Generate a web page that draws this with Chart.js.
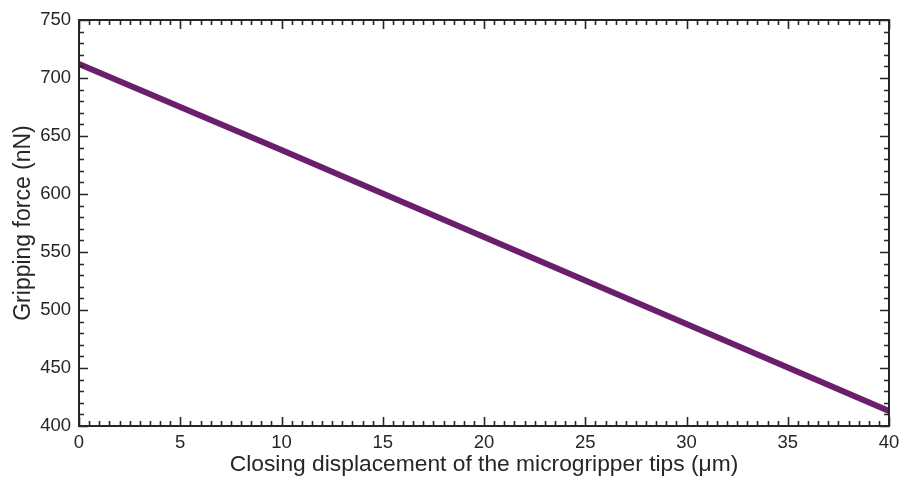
<!DOCTYPE html>
<html>
<head>
<meta charset="utf-8">
<script src="https://cdn.jsdelivr.net/npm/chart.js@4/dist/chart.umd.min.js"></script>
<style>
  html, body { margin: 0; padding: 0; background: #fff; }
  #wrap { width: 899px; height: 478px; }
</style>
</head>
<body>
<div id="wrap"><canvas id="c" width="899" height="478"></canvas></div>
<script>
// Closing displacement (µm) and resulting gripping force (nN)
const displacement = [0, 10, 20, 30, 40];
const grippingForce = [712, 638, 563, 488, 413];

const xTicks = [0, 5, 10, 15, 20, 25, 30, 35, 40];
const yTicks = [400, 450, 500, 550, 600, 650, 700, 750];

const AXIS_COLOR = '#262626';
const LINE_COLOR = '#6a1e6b';
const FONT = '"Liberation Sans", Arial, Helvetica, sans-serif';

// Box frame with inward major/minor ticks on all four sides
const frameTicks = {
  id: 'frameTicks',
  afterDatasetsDraw(chart) {
    const { ctx, chartArea: a, scales } = chart;
    const x = scales.x, y = scales.y;
    ctx.save();
    ctx.strokeStyle = AXIS_COLOR;
    ctx.lineWidth = 2;
    ctx.strokeRect(a.left, a.top, a.right - a.left, a.bottom - a.top);
    ctx.lineWidth = 1.6;
    ctx.beginPath();
    for (let v = x.min; v <= x.max + 1e-9; v += 0.5) {
      const px = Math.round(x.getPixelForValue(v)) + 0.5;
      const len = (Math.abs(v % 5) < 1e-9) ? 9 : 5;
      ctx.moveTo(px, a.bottom); ctx.lineTo(px, a.bottom - len);
      ctx.moveTo(px, a.top); ctx.lineTo(px, a.top + len);
    }
    for (let v = y.min; v <= y.max + 1e-9; v += 10) {
      const py = Math.round(y.getPixelForValue(v)) + 0.5;
      const len = (Math.abs(v % 50) < 1e-9) ? 9 : 5;
      ctx.moveTo(a.left, py); ctx.lineTo(a.left + len, py);
      ctx.moveTo(a.right, py); ctx.lineTo(a.right - len, py);
    }
    ctx.stroke();
    ctx.restore();
  }
};

new Chart(document.getElementById('c'), {
  type: 'scatter',
  data: {
    datasets: [{
      data: displacement.map((d, i) => ({ x: d, y: grippingForce[i] })),
      showLine: true,
      borderColor: LINE_COLOR,
      borderWidth: 6,
      pointRadius: 0,
      tension: 0,
      clip: false
    }]
  },
  options: {
    responsive: false,
    animation: false,
    layout: { padding: { left: 0, right: 0, top: 20, bottom: 0 } },
    plugins: { legend: { display: false }, tooltip: { enabled: false } },
    scales: {
      x: {
        type: 'linear', min: 0, max: 40,
        afterBuildTicks: s => { s.ticks = xTicks.map(v => ({ value: v })); },
        afterFit: s => { s.height = 52; s.paddingRight = 10; s.paddingLeft = 0; },
        grid: { display: false, drawTicks: false },
        border: { display: false },
        ticks: { color: AXIS_COLOR, font: { family: FONT, size: 18.5 }, padding: 6, maxRotation: 0 },
        title: {
          display: true,
          text: 'Closing displacement of the microgripper tips (μm)',
          color: AXIS_COLOR,
          font: { family: FONT, size: 22.8 },
          padding: { top: 0, bottom: 0 }
        }
      },
      y: {
        type: 'linear', min: 400, max: 750,
        afterBuildTicks: s => { s.ticks = yTicks.map(v => ({ value: v })); },
        afterFit: s => { s.width = 79; s.paddingTop = 0; s.paddingBottom = 0; },
        grid: { display: false, drawTicks: false },
        border: { display: false },
        ticks: { color: AXIS_COLOR, font: { family: FONT, size: 18.5 }, padding: 8 },
        title: {
          display: true,
          text: 'Gripping force (nN)',
          color: AXIS_COLOR,
          font: { family: FONT, size: 23 },
          padding: { top: 10, bottom: 0 }
        }
      }
    }
  },
  plugins: [frameTicks]
});
</script>
</body>
</html>
